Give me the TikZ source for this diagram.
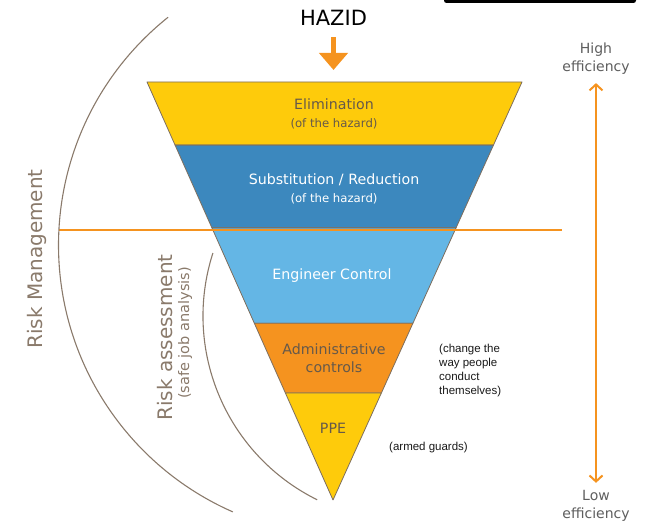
\documentclass[tikz,border=0pt]{standalone}
\usepackage{fontspec}
\setmainfont{DejaVu Sans}
\newfontfamily\notefont{Liberation Sans}
\usetikzlibrary{arrows.meta,calc}

\definecolor{hzyellow}{HTML}{FECB0B}
\definecolor{hzdarkblue}{HTML}{3C88BE}
\definecolor{hzlightblue}{HTML}{64B6E5}
\definecolor{hzorange}{HTML}{F5931F}
\definecolor{hzedge}{HTML}{7D6E5E}
\definecolor{hztext}{HTML}{66594A}
\definecolor{hzarc}{HTML}{8A7A6B}
\definecolor{hzgrey}{HTML}{5E5E5E}

\tikzset{
  band/.style={draw=hzedge,line width=0.8pt,line join=round},
  bandlabel/.style={align=center,inner sep=0pt,font=\fontsize{14.2}{18}\selectfont},
  sidelabel/.style={rotate=90,inner sep=0pt,text=hzarc},
  notelabel/.style={anchor=west,align=left,inner sep=0pt,text=black!90,font=\notefont\fontsize{11.5}{14}\selectfont},
  efflabel/.style={align=center,inner sep=0pt,text=hzgrey,font=\fontsize{14}{18}\selectfont},
  riskarc/.style={draw=hzarc,line width=1.1pt},
}

\begin{document}
\begin{tikzpicture}[x=1pt,y=1pt]
		\useasboundingbox (0,0) rectangle (651,523);
		\fill[black,rounded corners=2.5pt] (444,520) rectangle (636,530);

		% funnel
		\coordinate (tl) at (147,441);
		\coordinate (tr) at (522,441);
		\coordinate (apex) at (333,23);
		\foreach \t [count=\i] in {0.151,0.349,0.577,0.744} {
			\coordinate (l\i) at ($(tl)!\t!(apex)$);
			\coordinate (r\i) at ($(tr)!\t!(apex)$);
		}

		\filldraw[band,fill=hzyellow] (tl) -- (tr) -- (r1) -- (l1) -- cycle;
		\filldraw[band,fill=hzdarkblue] (l1) -- (r1) -- (r2) -- (l2) -- cycle;
		\filldraw[band,fill=hzlightblue] (l2) -- (r2) -- (r3) -- (l3) -- cycle;
		\filldraw[band,fill=hzorange] (l3) -- (r3) -- (r4) -- (l4) -- cycle;
		\filldraw[band,fill=hzyellow] (l4) -- (r4) -- (apex) -- cycle;

		\node[bandlabel,text=hztext] (elim) at (334,409) {Elimination\\{\fontsize{11.7}{18}\selectfont (of the hazard)}};
		\node[bandlabel,text=white] (subst) at (334,334.5) {Substitution / Reduction\\{\fontsize{11.7}{17}\selectfont (of the hazard)}};
		\node[bandlabel,text=white] (eng) at (332,247) {Engineer Control};
		\node[bandlabel,text=hztext] (admin) at (334,165) {Administrative\\controls};
		\node[bandlabel,text=hztext] (ppe) at (333,95) {PPE};

		% split between management and assessment
		\coordinate (splitL) at (59,293);
		\coordinate (splitR) at (562,293);
		\draw[hzorange,line width=2pt] (splitL) -- (splitR);

		\draw[riskarc] (350,278) ++(128.6:291.5) arc[start angle=128.6,end angle=246.3,radius=291.5];
		\draw[riskarc] (408,207) ++(162.1:205) arc[start angle=162.1,end angle=243.7,radius=205];

		\node[sidelabel,font=\fontsize{20}{24}\selectfont] (riskman) at (36.7,264) {Risk Management};
		\node[sidelabel,font=\fontsize{20}{24}\selectfont] (riskass) at (165.4,185.5) {Risk assessment};
		\node[sidelabel,font=\fontsize{14.5}{18}\selectfont] (riskjob) at (185.2,190) {(safe job analysis)};

		% hazid
		\node[inner sep=0pt,font=\fontsize{21}{25}\selectfont] (hazid) at (333.5,505.6) {HAZID};
		\coordinate (hztip) at (333.5,453);
		\draw[hzorange,line width=5pt,-{Triangle[width=28pt,length=17pt]},shorten <=12pt] (hazid.south) -- (hztip);

		% efficiency scale
		\node[efflabel] (high) at (596,464.6) {High\\efficiency};
		\node[efflabel] (low) at (596,17.4) {Low\\efficiency};
		\draw[hzorange,line width=2pt,{Straight Barb[width=13pt,length=6pt]}-{Straight Barb[width=13pt,length=6pt]},shorten <=8.7pt,shorten >=7pt] (high) -- (low);

		\node[notelabel] (change) at (439,152.5) {(change the\\way people\\conduct\\themselves)};
		\node[notelabel] (guards) at (389,75) {(armed guards)};
\end{tikzpicture}
\end{document}
